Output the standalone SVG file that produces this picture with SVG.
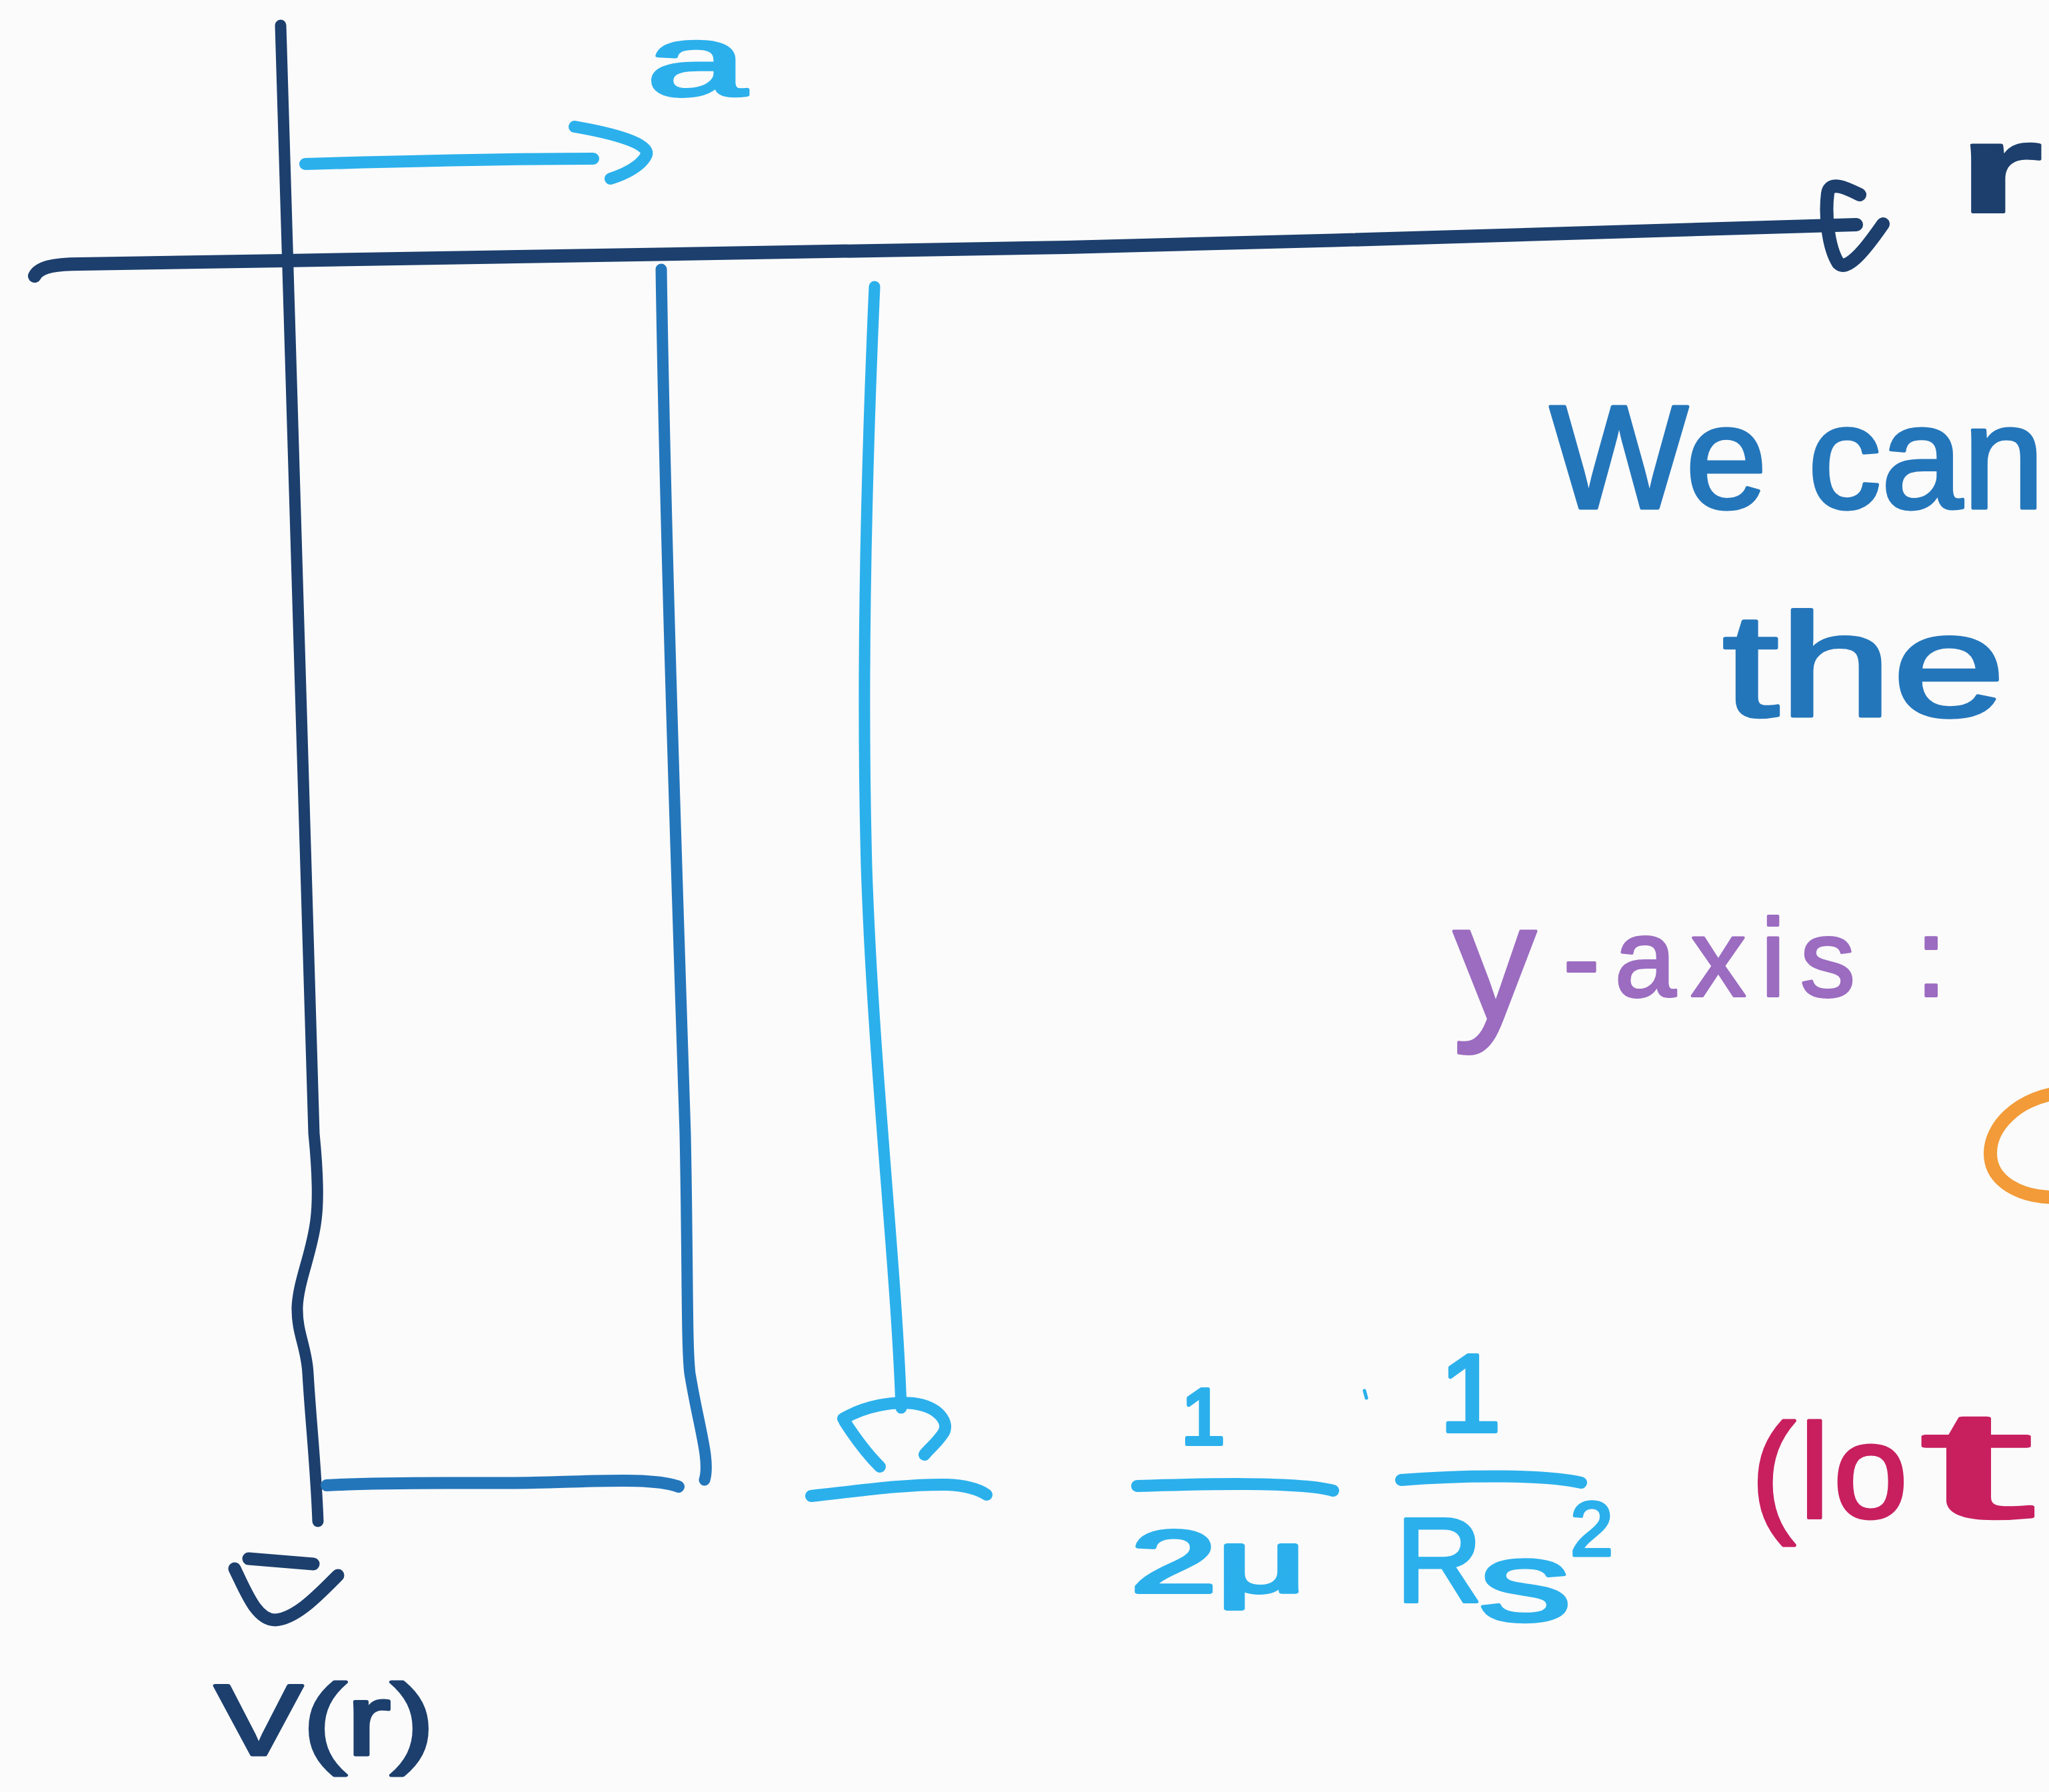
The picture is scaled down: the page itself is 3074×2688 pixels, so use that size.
<svg xmlns="http://www.w3.org/2000/svg" width="3074" height="2688" viewBox="0 0 3074 2688">
<style>
.ink{fill:none;stroke-linecap:round;stroke-linejoin:round}
.navy{stroke:#1c3f6d}
.mid{stroke:#2476bb}
.light{stroke:#2bb0ec}
.t{font-family:"Liberation Sans","DejaVu Sans",sans-serif;stroke-linejoin:round}
.tnavy{fill:#1c3f6d;stroke:#1c3f6d}
.tmid{fill:#2476bb;stroke:#2476bb}
.tlight{fill:#2bb0ec;stroke:#2bb0ec}
.tpurple{fill:#9b6cc0;stroke:#9b6cc0}
.tmag{fill:#c81f5f;stroke:#c81f5f}
</style>
<rect x="0" y="0" width="3074" height="2688" fill="#fbfbfb"/>
<g id="connectors">
  <path id="r-axis" class="ink navy" stroke-width="20" d="M52,414 C58,402 78,396 120,396 L427,391 C800,388 1200,380 1600,371 C2000,362 2500,345 2785,337"/>
  <path id="r-axis-head" class="ink navy" stroke-width="20" d="M2790,292 C2770,282 2745,270 2742,290 C2738,320 2742,370 2758,395 C2772,408 2800,372 2825,336"/>
  <path id="v-axis" class="ink navy" stroke-width="17" d="M421,38 C428,200 440,800 471,1700 C477,1760 478,1800 474,1830 C468,1880 448,1920 446,1960 C445,2000 460,2020 462,2060 C466,2130 474,2200 477,2282"/>
  <path id="v-axis-head" class="ink navy" stroke-width="19" d="M373,2338 L470,2346 M352,2353 C370,2390 385,2430 413,2430 C445,2428 480,2390 507,2363"/>
  <path id="a-arrow" class="ink light" stroke-width="18" d="M458,246 C600,242 760,238 890,238 M862,190 C920,200 975,215 970,232 C962,250 935,262 916,268"/>
</g>
<g id="box">
  <path class="ink mid" stroke-width="17" d="M992,404 C998,800 1015,1300 1028,1700 C1032,1900 1030,2020 1035,2060 C1048,2140 1066,2190 1057,2220"/>
  <path class="ink mid" stroke-width="18" d="M490,2228 C600,2222 700,2226 800,2224 C900,2222 980,2216 1018,2230"/>
</g>
<g id="level">
  <path class="ink light" stroke-width="17" d="M1312,430 C1300,700 1292,1000 1300,1300 C1310,1600 1345,1900 1352,2112"/>
  <path class="ink light" stroke-width="18" d="M1265,2128 C1300,2108 1340,2102 1370,2105 C1410,2110 1425,2135 1415,2150 C1405,2165 1392,2175 1387,2182 M1267,2132 C1285,2160 1305,2185 1320,2200"/>
  <path class="ink light" stroke-width="18" d="M1217,2244 C1290,2236 1360,2226 1420,2227 C1450,2228 1470,2235 1480,2242"/>
</g>
<g id="label-a">
  <text class="t tlight" x="970" y="143" font-size="150" stroke-width="5" textLength="150" lengthAdjust="spacingAndGlyphs">a</text>
</g>
<g id="label-r">
  <text class="t tnavy" x="2938" y="318" font-size="190" font-weight="bold" stroke-width="4" textLength="126" lengthAdjust="spacingAndGlyphs">r</text>
</g>
<g id="label-V">
  <text class="t tnavy" x="322" y="2632" font-size="150" stroke-width="5" textLength="330" lengthAdjust="spacingAndGlyphs">V(r)</text>
</g>
<g id="formula">
  <text class="t tlight" x="1772" y="2166" font-size="118" stroke-width="6">1</text>
  <path class="ink light" stroke-width="18" d="M1706,2229 C1800,2226 1950,2222 2000,2236"/>
  <text class="t tlight" x="1696" y="2388" font-size="132" stroke-width="6" textLength="264" lengthAdjust="spacingAndGlyphs">2μ</text>
  <path class="ink light" stroke-width="5" d="M2047,2086 L2050,2097"/>
  <text class="t tlight" x="2160" y="2147" font-size="165" stroke-width="6">1</text>
  <path class="ink light" stroke-width="18" d="M2102,2220 C2200,2212 2320,2212 2372,2224"/>
  <text class="t tlight" x="2094" y="2402" font-size="180" stroke-width="5">R</text>
  <text class="t tlight" x="2218" y="2431" font-size="170" stroke-width="5" textLength="140" lengthAdjust="spacingAndGlyphs">s</text>
  <text class="t tlight" x="2356" y="2333" font-size="115" stroke-width="5">2</text>
</g>
<g id="note-we-can">
  <text class="t tmid" x="2325" y="762" font-size="220" stroke-width="5" textLength="742" lengthAdjust="spacing">We can</text>
</g>
<g id="note-the">
  <text class="t tmid" x="2584" y="1074" font-size="220" stroke-width="5" textLength="425" lengthAdjust="spacingAndGlyphs">the</text>
</g>
<g id="note-y-axis">
  <text class="t tpurple" y="1494" stroke-width="4"><tspan x="2180" dy="35" font-size="250">y</tspan><tspan x="2345" dy="-35" font-size="165" textLength="575" lengthAdjust="spacing">-axis :</tspan></text>
</g>
<g id="orange-mark">
  <path class="ink" stroke="#f29b38" stroke-width="20" d="M3084,1640 C3025,1650 2986,1690 2986,1730 C2986,1772 3030,1796 3084,1796"/>
</g>
<g id="note-lot">
  <text class="t tmag" x="2627" y="2276" font-size="200" stroke-width="5"><tspan textLength="235" lengthAdjust="spacing">(lo</tspan><tspan x="2880" font-size="230" textLength="170" lengthAdjust="spacingAndGlyphs">t</tspan></text>
</g>
</svg>
